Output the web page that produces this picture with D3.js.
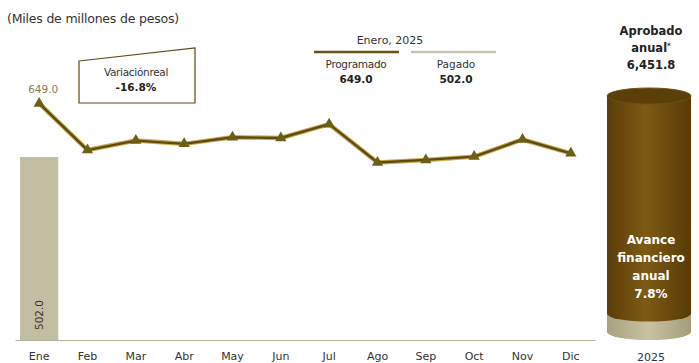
<!DOCTYPE html>
<html><head><meta charset="utf-8">
<script src="https://cdn.jsdelivr.net/npm/d3@7"></script>
<style>body{margin:0;background:#fff}svg{display:block}text{font-family:"DejaVu Sans",sans-serif}</style>
</head><body>
<script>
const months = ["Ene","Feb","Mar","Abr","May","Jun","Jul","Ago","Sep","Oct","Nov","Dic"];
const programado = [649.0,521,547,538,556,554,592,487,494,503,550,512];
const pagado = [502.0];
const aprobadoAnual = 6451.8;
const avancePct = 7.8;
const variacionReal = "-16.8%";

const W=699,H=363;
const svg=d3.select("body").append("svg").attr("width",W).attr("height",H);
const F='"DejaVu Sans",sans-serif';

const x=d3.scaleBand().domain(months).range([15,595]).paddingInner(0.21).paddingOuter(0.105);
const y=d3.scaleLinear().domain([0,700]).range([340,84.8]);

// title
svg.append("text").attr("x",7).attr("y",23).attr("font-size",12.5).attr("fill","#333").attr("letter-spacing","-0.2").text("(Miles de millones de pesos)");

// bar
svg.selectAll("rect.bar").data(pagado).join("rect").attr("class","bar")
 .attr("x",(d,i)=>x(months[i])).attr("width",x.bandwidth())
 .attr("y",d=>y(d)).attr("height",d=>y(0)-y(d)).attr("fill","#c3bea2");
svg.selectAll("text.barlab").data(pagado).join("text").attr("class","barlab")
 .attr("transform",(d,i)=>`translate(${x(months[i])+x.bandwidth()/2+4},${y(0)-25}) rotate(-90)`)
 .attr("text-anchor","middle").attr("font-size",10.5).attr("fill","#333").text(d=>d.toFixed(1));

// axis
const ax=svg.append("g").attr("transform","translate(0,340)").call(d3.axisBottom(x).tickSize(0).tickPadding(12));
ax.select(".domain").attr("stroke","#b8b196").attr("stroke-width",1.2);
ax.selectAll("text").attr("font-size",11).attr("fill","#333").attr("font-family",F);

// line
const line=d3.line().x((d,i)=>x(months[i])+x.bandwidth()/2).y(d=>y(d));
svg.append("path").datum(programado).attr("d",line).attr("fill","none").attr("stroke","#c9a94c").attr("stroke-width",4.5).attr("stroke-linejoin","round");
svg.append("path").datum(programado).attr("d",line).attr("fill","none").attr("stroke","#5e4a12").attr("stroke-width",2.4).attr("stroke-linejoin","round");
const tri=d3.symbol().type(d3.symbolTriangle).size(55);
svg.selectAll("path.mk").data(programado).join("path").attr("class","mk")
 .attr("d",tri).attr("transform",(d,i)=>`translate(${x(months[i])+x.bandwidth()/2},${y(d)})`).attr("fill","#6c5f16");
svg.append("text").attr("x",x(months[0])+x.bandwidth()/2+4).attr("y",y(programado[0])-10)
 .attr("text-anchor","middle").attr("font-size",10.5).attr("fill","#8a7b52").text(programado[0].toFixed(1));

// variacion box
svg.append("path").attr("d","M79,61 L195,48 L195,103 L79,103 Z").attr("fill","#fff").attr("stroke","#5e4a12").attr("stroke-width",1.2);
svg.append("text").attr("x",136).attr("y",76).attr("text-anchor","middle").attr("font-size",10.5).attr("fill","#333").attr("letter-spacing","-0.3").text("Variaciónreal");
svg.append("text").attr("x",136).attr("y",91).attr("text-anchor","middle").attr("font-size",10.5).attr("font-weight","bold").attr("fill","#222").text(variacionReal);

// legend
svg.append("text").attr("x",390).attr("y",44).attr("text-anchor","middle").attr("font-size",11).attr("fill","#333").text("Enero, 2025");
svg.append("line").attr("x1",314).attr("x2",399).attr("y1",52).attr("y2",52).attr("stroke","#6a5217").attr("stroke-width",2.5);
svg.append("line").attr("x1",411).attr("x2",496).attr("y1",52).attr("y2",52).attr("stroke","#c9c4ab").attr("stroke-width",2.5);
svg.append("text").attr("x",356).attr("y",68).attr("text-anchor","middle").attr("font-size",10.5).attr("fill","#333").attr("letter-spacing","-0.3").text("Programado");
svg.append("text").attr("x",356).attr("y",83).attr("text-anchor","middle").attr("font-size",10.5).attr("font-weight","bold").attr("fill","#222").text(programado[0].toFixed(1));
svg.append("text").attr("x",456).attr("y",68).attr("text-anchor","middle").attr("font-size",10.5).attr("fill","#333").text("Pagado");
svg.append("text").attr("x",456).attr("y",83).attr("text-anchor","middle").attr("font-size",10.5).attr("font-weight","bold").attr("fill","#222").text(pagado[0].toFixed(1));

// cylinder
const cx=649,rx=42,ry=8;
const cyl=d3.scaleLinear().domain([0,100]).range([332,96]);
const defs=svg.append("defs");
const g1=defs.append("linearGradient").attr("id","gb");
[["0%","#5a3c06"],["45%","#7d5a15"],["100%","#583a06"]].forEach(s=>g1.append("stop").attr("offset",s[0]).attr("stop-color",s[1]));
const g2=defs.append("linearGradient").attr("id","gk");
[["0%","#a9a27f"],["50%","#c8c2a2"],["100%","#a49d7a"]].forEach(s=>g2.append("stop").attr("offset",s[0]).attr("stop-color",s[1]));
const yb=cyl(0), yt=cyl(100), ya=cyl(avancePct);
svg.append("path").attr("d",`M${cx-rx},${ya} L${cx-rx},${yb} A${rx},${ry} 0 0 0 ${cx+rx},${yb} L${cx+rx},${ya} Z`).attr("fill","url(#gk)");
svg.append("path").attr("d",`M${cx-rx},${yt} L${cx-rx},${ya} A${rx},${ry} 0 0 0 ${cx+rx},${ya} L${cx+rx},${yt} Z`).attr("fill","url(#gb)");
svg.append("ellipse").attr("cx",cx).attr("cy",yt).attr("rx",rx).attr("ry",ry).attr("fill","#5b3f08").attr("stroke","#6e5012").attr("stroke-width",1);

svg.append("text").attr("x",651).attr("y",35).attr("text-anchor","middle").attr("font-size",11.5).attr("font-weight","bold").attr("fill","#222").text("Aprobado");
const t2=svg.append("text").attr("x",651).attr("y",52).attr("text-anchor","middle").attr("font-size",11.5).attr("font-weight","bold").attr("fill","#222");
t2.append("tspan").text("anual");
t2.append("tspan").attr("font-size",7).attr("dy",-4).text("*");
svg.append("text").attr("x",651).attr("y",69).attr("text-anchor","middle").attr("font-size",11.5).attr("font-weight","bold").attr("fill","#222").text(d3.format(",.1f")(aprobadoAnual));
const al=[["Avance",244],["financiero",262],["anual",280],[avancePct+"%",298]];
al.forEach(t=>svg.append("text").attr("x",651).attr("y",t[1]).attr("text-anchor","middle").attr("font-size",12).attr("font-weight","bold").attr("fill","#fff").text(t[0]));
svg.append("text").attr("x",651).attr("y",361).attr("text-anchor","middle").attr("font-size",11).attr("fill","#333").text("2025");
</script>
</body></html>
